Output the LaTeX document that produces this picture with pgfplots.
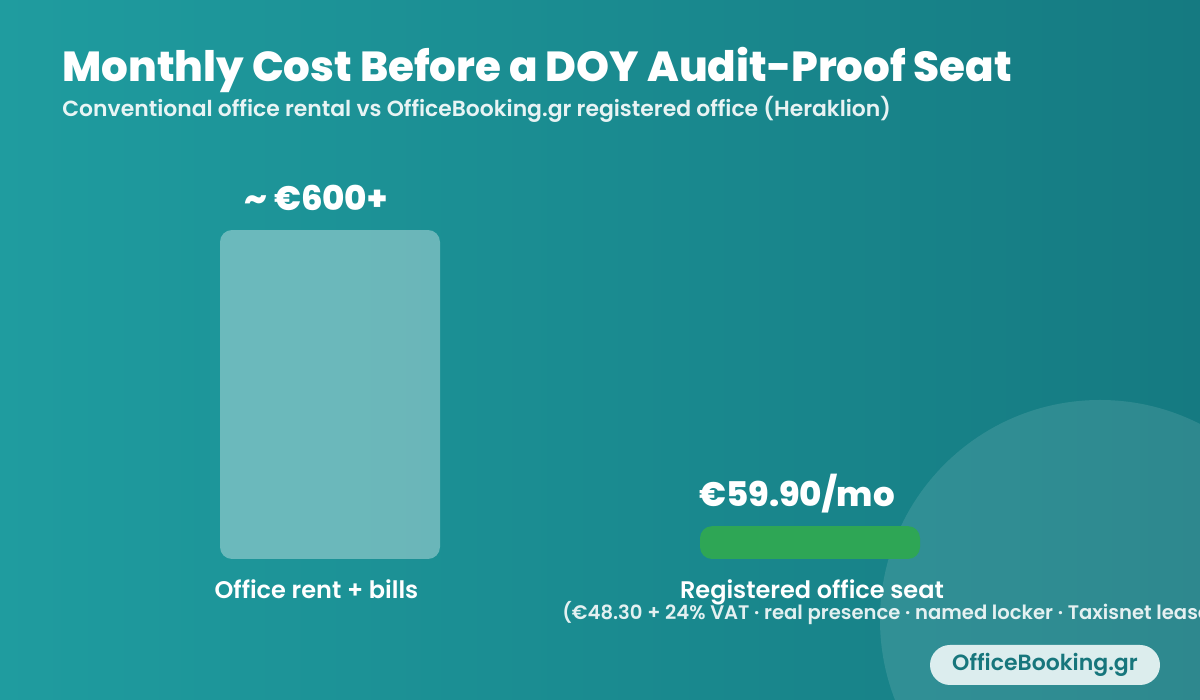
\documentclass[border=0pt]{standalone}
\usepackage{pgfplots}
\pgfplotsset{compat=1.18}
\usepackage{fontspec}
\setmainfont{Poppins}
\newfontfamily\heavy{Poppins ExtraBold}
\newfontfamily\semi{Poppins SemiBold}
\definecolor{bgL}{HTML}{1F9C9F}
\definecolor{bgR}{HTML}{157A81}
\definecolor{greenbar}{HTML}{2EA655}
\definecolor{tealtext}{HTML}{17767C}
\definecolor{badge}{HTML}{E6F3F3}
\begin{document}
\begin{tikzpicture}
\clip (0pt,0pt) rectangle (600pt,350pt);
\shade[left color=bgL, right color=bgR] (0pt,0pt) rectangle (600pt,350pt);
\fill[white, opacity=0.11] (550pt,40pt) circle (110pt);
\node[anchor=base west, inner sep=0pt, text=white] at (31pt,309pt) {\heavy\fontsize{21pt}{25pt}\selectfont Monthly Cost Before a DOY Audit-Proof Seat};
\node[anchor=base west, inner sep=0pt, text=white, text opacity=0.9] at (31pt,291.5pt) {\semi\fontsize{10.95pt}{13pt}\selectfont Conventional office rental vs OfficeBooking.gr registered office (Heraklion)};
\begin{axis}[
  at={(165pt,70.5pt)}, anchor=south west,
  scale only axis, width=240pt, height=164.5pt,
  xmin=0, xmax=1, ymin=0, ymax=600,
  hide axis, clip=false,
  every node near coord/.append style={anchor=base, yshift=10pt, text=white, inner sep=0pt, fill opacity=1, text opacity=1},
]
\addplot[ybar, bar width=110pt, bar shift=0pt, fill=white, fill opacity=0.35, draw=none, rounded corners=6pt,
  every node near coord/.append style={xshift=-7pt},
  nodes near coords={\heavy\fontsize{17pt}{20pt}\selectfont \textasciitilde\ €600+}]
  coordinates {(0,600)};
\addplot[ybar, bar width=110pt, bar shift=0pt, fill=greenbar, draw=none, rounded corners=6pt,
  every node near coord/.append style={xshift=-6.5pt},
  nodes near coords={\heavy\fontsize{17pt}{20pt}\selectfont €59.90/mo}]
  coordinates {(1,59.9)};
\node[anchor=base, text=white, inner sep=0pt, xshift=-6.75pt] at (axis cs:0,0) [yshift=-20pt] {\semi\fontsize{12pt}{14pt}\selectfont Office rent + bills};
\node[anchor=base, text=white, inner sep=0pt, xshift=1pt] at (axis cs:1,0) [yshift=-20pt] {\semi\fontsize{12pt}{14pt}\selectfont Registered office seat};
\node[anchor=base west, text=white, text opacity=0.88, inner sep=0pt, xshift=-124pt] at (axis cs:1,0) [yshift=-30.5pt] {\semi\fontsize{9.8pt}{12pt}\selectfont (€48.30 + 24\% VAT · real presence · named locker · Taxisnet lease)};
\end{axis}
\fill[badge, opacity=0.95, rounded corners=10pt] (465pt,7.5pt) rectangle (580pt,27.5pt);
\node[text=tealtext, inner sep=0pt] at (522.5pt,17.5pt) {\semi\fontsize{11pt}{13pt}\selectfont OfficeBooking.gr};
\end{tikzpicture}
\end{document}
